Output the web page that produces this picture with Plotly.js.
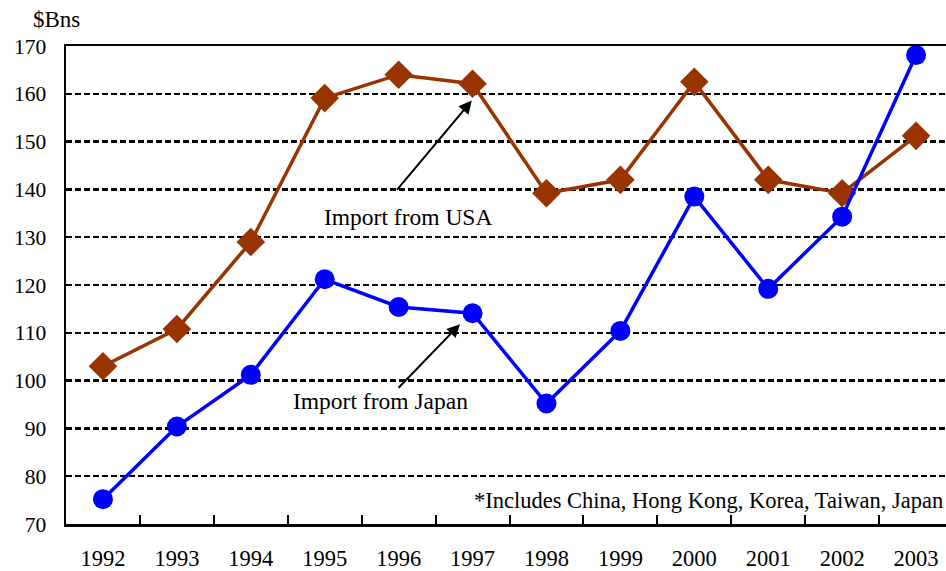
<!DOCTYPE html>
<html>
<head>
<meta charset="utf-8">
<script src="https://cdn.plot.ly/plotly-3.0.1.min.js"></script>
<style>html,body{margin:0;padding:0;background:#fff;}#chart{width:946px;height:571px;}</style>
</head>
<body>
<div id="chart"></div>
<script>
const years = ['1992','1993','1994','1995','1996','1997','1998','1999','2000','2001','2002','2003'];
const importUSA = [103, 110.8, 129, 159.1, 164, 162.1, 139.2, 142, 162.5, 142, 139.2, 151.2];
const importJapan = [75.2, 90.4, 101.2, 121.2, 115.4, 114.1, 95.2, 110.4, 138.5, 119.2, 134.3, 168.1];
const yTicks = [70, 80, 90, 100, 110, 120, 130, 140, 150, 160, 170];

const serif = '"Liberation Serif", "Times New Roman", serif';

const traces = [
  {
    x: years, y: importUSA, type: 'scatter', mode: 'lines+markers', name: 'Import from USA',
    line: {color: '#993300', width: 3.5},
    marker: {symbol: 'diamond', size: 22, color: '#993300'}
  },
  {
    x: years, y: importJapan, type: 'scatter', mode: 'lines+markers', name: 'Import from Japan',
    line: {color: '#0000FF', width: 3.5},
    marker: {symbol: 'circle', size: 20, color: '#0000FF'}
  }
];

const layout = {
  width: 946, height: 571,
  margin: {l: 66, r: 0, t: 46, b: 47},
  paper_bgcolor: '#fff', plot_bgcolor: '#fff',
  showlegend: false,
  font: {family: serif, size: 22, color: '#000'},
  xaxis: {
    type: 'category', range: [-0.5, 11.405],
    showline: true, linecolor: '#000', linewidth: 2.5, mirror: true,
    ticks: 'inside', tickson: 'boundaries', ticklen: 9, tickwidth: 2, tickcolor: '#000',
    showgrid: false, zeroline: false,
    tickfont: {family: serif, size: 22.5, color: '#000'},
    ticklabelstandoff: 12
  },
  yaxis: {
    range: [70, 170], tickvals: yTicks,
    showline: true, linecolor: '#000', linewidth: 2.5,
    ticks: 'inside', ticklen: 5, tickwidth: 2, tickcolor: '#000',
    showgrid: true, gridcolor: '#000', gridwidth: 2.3, griddash: '5.5px,3.5px',
    zeroline: false,
    tickfont: {family: serif, size: 21.5, color: '#000'},
    ticklabelstandoff: 13
  },
  annotations: [
    {xref: 'paper', yref: 'paper', x: -0.04, y: 1.025, xanchor: 'left', yanchor: 'bottom',
     text: '$Bns', showarrow: false, font: {family: serif, size: 23, color: '#000'}},
    {xref: 'x', yref: 'y', x: 4.99, y: 158.6, ax: 3.96, ay: 139.6, axref: 'x', ayref: 'y',
     text: '', showarrow: true, arrowhead: 2, arrowsize: 1.3, arrowwidth: 2, arrowcolor: '#000', standoff: 0},
    {xref: 'x', yref: 'y', x: 4.12, y: 134.2, text: 'Import from USA', showarrow: false,
     font: {family: serif, size: 23.5, color: '#000'}},
    {xref: 'x', yref: 'y', x: 4.83, y: 111.8, ax: 3.98, ay: 98.2, axref: 'x', ayref: 'y',
     text: '', showarrow: true, arrowhead: 2, arrowsize: 1.3, arrowwidth: 2, arrowcolor: '#000', standoff: 0},
    {xref: 'x', yref: 'y', x: 3.75, y: 95.7, text: 'Import from Japan', showarrow: false,
     font: {family: serif, size: 23.5, color: '#000'}},
    {xref: 'paper', yref: 'y', x: 0.9985, y: 75, xanchor: 'right', text: '*Includes China, Hong Kong, Korea, Taiwan, Japan',
     showarrow: false, font: {family: serif, size: 22.5, color: '#000'}}
  ]
};

Plotly.newPlot('chart', traces, layout, {displayModeBar: false, staticPlot: true});
</script>
</body>
</html>
